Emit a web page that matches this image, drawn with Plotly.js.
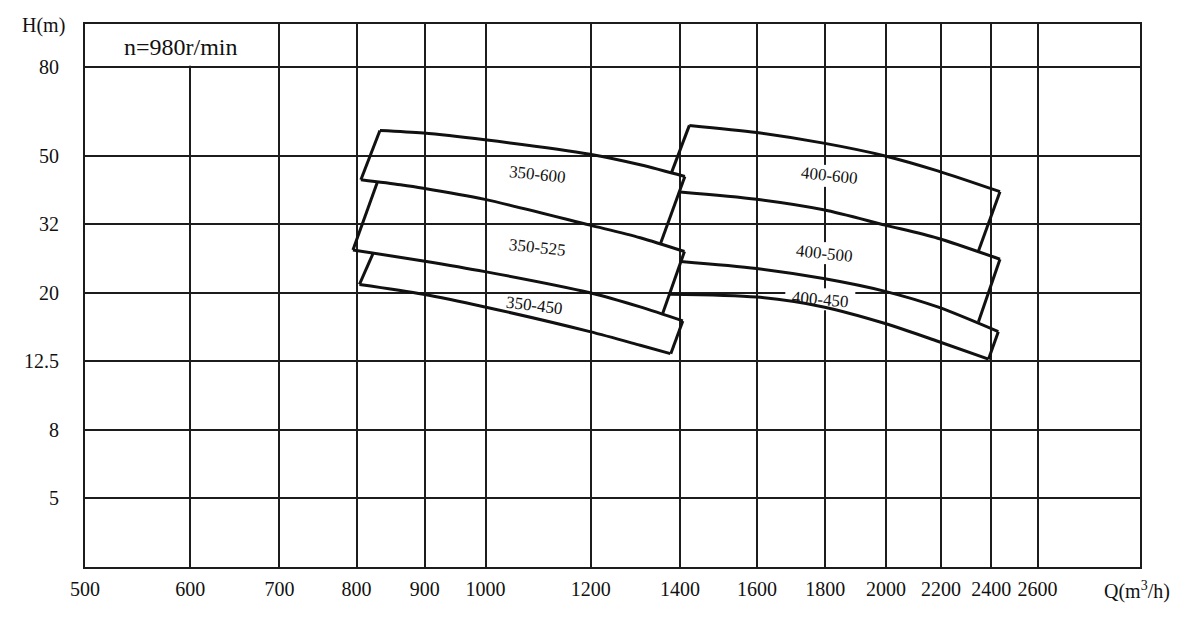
<!DOCTYPE html>
<html>
<head>
<meta charset="utf-8">
<script src="https://cdn.plot.ly/plotly-3.0.1.min.js"></script>
<style>html,body{margin:0;padding:0;background:#fff;}#chart{width:1200px;height:618px;}</style>
</head>
<body>
<div id="chart"></div>
<script>
// ---- axis ticks ----
const qTicks = [500, 600, 700, 800, 900, 1000, 1200, 1400, 1600, 1800, 2000, 2200, 2400, 2600];
const qTickText = ['500','600','700','800','900','1000','1200','1400','1600','1800','2000','2200','2400','2600'];
const hTickVals = [5, 8, 12.8, 20.48, 32.77, 52.43, 96.2];
const hTickText = ['5', '8', '12.5', '20', '32', '50', '80'];

// ---- 350 series curves (Q m3/h, H m) ----
const curveA_Q = [833, 898, 999, 1198, 1307, 1412];          // 350-600 top
const curveA_H = [62.4, 61.3, 58.5, 53.0, 49.3, 45.5];
const curveB_Q = [806, 863, 898, 999, 1198, 1307, 1411];     // 350-600 bottom / 350-525 top
const curveB_H = [44.5, 43.0, 42.0, 38.9, 32.6, 29.9, 27.2];
const curveC_Q = [795, 898, 999, 1198, 1307, 1407];          // 350-525 bottom / 350-450 top
const curveC_H = [27.5, 25.5, 23.7, 20.5, 18.6, 16.9];
const curveD_Q = [804, 898, 999, 1198, 1307, 1377];          // 350-450 bottom
const curveD_H = [21.7, 20.3, 18.6, 15.7, 14.3, 13.5];

// ---- 400 series curves ----
const curveE_Q = [1423, 1599, 1795, 1997, 2187, 2436];       // 400-600 top
const curveE_H = [64.6, 61.5, 57.2, 52.4, 47.3, 41.0];
const curveF_Q = [1400, 1599, 1795, 1997, 2187, 2436];       // 400-600 bottom / 400-500 top
const curveF_H = [40.9, 38.9, 36.2, 32.6, 29.8, 25.8];
const curveG_Q = [1402, 1599, 1795, 1997, 2187, 2429];       // 400-500 bottom / 400-450 top
const curveG_H = [25.4, 24.2, 22.6, 20.7, 18.6, 15.7];
const curveH_Q = [1375, 1599, 1795, 1997, 2187, 2388];       // 400-450 bottom
const curveH_H = [20.3, 19.9, 18.6, 16.6, 14.7, 13.0];

// ---- tile side edges (start / end) ----
const edgeQ0 = [833, 829, 823, 1412, 1411, 1407, 1423, 2436, 2436, 2429];
const edgeH0 = [62.4, 43.6, 26.8, 45.5, 27.2, 16.9, 64.6, 41.0, 25.8, 15.7];
const edgeQ1 = [806, 795, 804, 1354, 1359, 1378, 1380, 2347, 2347, 2388];
const edgeH1 = [44.5, 27.5, 21.7, 28.8, 17.8, 13.5, 46.8, 27.3, 16.8, 13.0];

// ---- model labels ----
const labelText  = ['350-600', '350-525', '350-450', '400-600', '400-500', '400-450'];
const labelQ     = [1095, 1095, 1089, 1813, 1797, 1785];
const labelH     = [46.0, 27.9, 18.8, 45.7, 26.9, 19.6];
const labelAngle = [6, 6, 7, 6, 6, 5];

// ---- axis ranges ----
const qRange = [500, 3104];
const hRange = [3.125, 129.5];

const plotW = 1055, plotH = 543;
const pxPerDecQ = plotW / (Math.log10(qRange[1]) - Math.log10(qRange[0]));
const pxPerDecH = plotH / (Math.log10(hRange[1]) - Math.log10(hRange[0]));
const shiftQ = (q, px) => q * Math.pow(10, px / pxPerDecQ);
const shiftH = (h, px) => h * Math.pow(10, px / pxPerDecH);

const ink = '#111111';
const traces = [];

// white masks (drawn under curves, over grid): label gaps and merged title cell
const mask = (x, y) => traces.push({x: x, y: y, type: 'scatter', mode: 'lines',
  line: {color: '#ffffff', width: 4}, hoverinfo: 'skip', showlegend: false});
[3, 4, 5].forEach(i => mask([qTicks[9], qTicks[9]], [shiftH(labelH[i], -11), shiftH(labelH[i], 11)]));
mask([shiftQ(labelQ[5], -35), shiftQ(labelQ[5], 35)], [hTickVals[3], hTickVals[3]]);
mask([qTicks[1], qTicks[1]], [shiftH(hTickVals[6], 1.6), hRange[1] * 1.2]);

const curves = [
  [curveA_Q, curveA_H], [curveB_Q, curveB_H], [curveC_Q, curveC_H], [curveD_Q, curveD_H],
  [curveE_Q, curveE_H], [curveF_Q, curveF_H], [curveG_Q, curveG_H], [curveH_Q, curveH_H]
];
curves.forEach(c => {
  traces.push({x: c[0], y: c[1], type: 'scatter', mode: 'lines',
    line: {color: ink, width: 3, shape: 'spline', smoothing: 0.8},
    hoverinfo: 'skip', showlegend: false});
});
edgeQ0.forEach((q, i) => {
  traces.push({x: [q, edgeQ1[i]], y: [edgeH0[i], edgeH1[i]], type: 'scatter', mode: 'lines',
    line: {color: ink, width: 3}, hoverinfo: 'skip', showlegend: false});
});

const serif = 'Liberation Serif, Times New Roman, serif';

const annotations = labelText.map((t, i) => ({
  text: t, x: Math.log10(labelQ[i]), y: Math.log10(labelH[i]), xref: 'x', yref: 'y',
  showarrow: false, textangle: labelAngle[i], font: {family: serif, size: 17, color: ink}
}));
annotations.push({text: 'H(m)', xref: 'paper', yref: 'paper', x: -0.0398, y: 0.998,
  xanchor: 'center', yanchor: 'middle', showarrow: false, font: {family: serif, size: 20, color: ink}});
annotations.push({text: 'Q(m<sup>3</sup>/h)', xref: 'paper', yref: 'paper', x: 0.9972, y: -0.044,
  xanchor: 'center', yanchor: 'middle', showarrow: false, font: {family: serif, size: 20, color: ink}});
annotations.push({text: 'n=980r/min', xref: 'paper', yref: 'paper', x: 0.091, y: 0.9585,
  xanchor: 'center', yanchor: 'middle', showarrow: false, font: {family: serif, size: 24, color: ink}});

const layout = {
  width: 1200, height: 618,
  margin: {l: 85, r: 60, t: 24, b: 51},
  paper_bgcolor: '#ffffff', plot_bgcolor: '#ffffff',
  showlegend: false,
  xaxis: {
    type: 'log', range: [Math.log10(qRange[0]), Math.log10(qRange[1])],
    tickmode: 'array', tickvals: qTicks, ticktext: qTickText,
    showgrid: true, gridcolor: '#1c1c1c', gridwidth: 2,
    showline: true, linecolor: '#1c1c1c', linewidth: 2, mirror: true,
    zeroline: false, ticks: '', ticklabelstandoff: 3,
    tickfont: {family: serif, size: 20, color: ink}
  },
  yaxis: {
    type: 'log', range: [Math.log10(hRange[0]), Math.log10(hRange[1])],
    tickmode: 'array', tickvals: hTickVals, ticktext: hTickText,
    showgrid: true, gridcolor: '#1c1c1c', gridwidth: 2,
    showline: true, linecolor: '#1c1c1c', linewidth: 2, mirror: true,
    zeroline: false, ticks: '', ticklabelstandoff: 20,
    tickfont: {family: serif, size: 20, color: ink}
  },
  annotations: annotations
};

Plotly.newPlot('chart', traces, layout, {staticPlot: true, displayModeBar: false});
</script>
</body>
</html>
